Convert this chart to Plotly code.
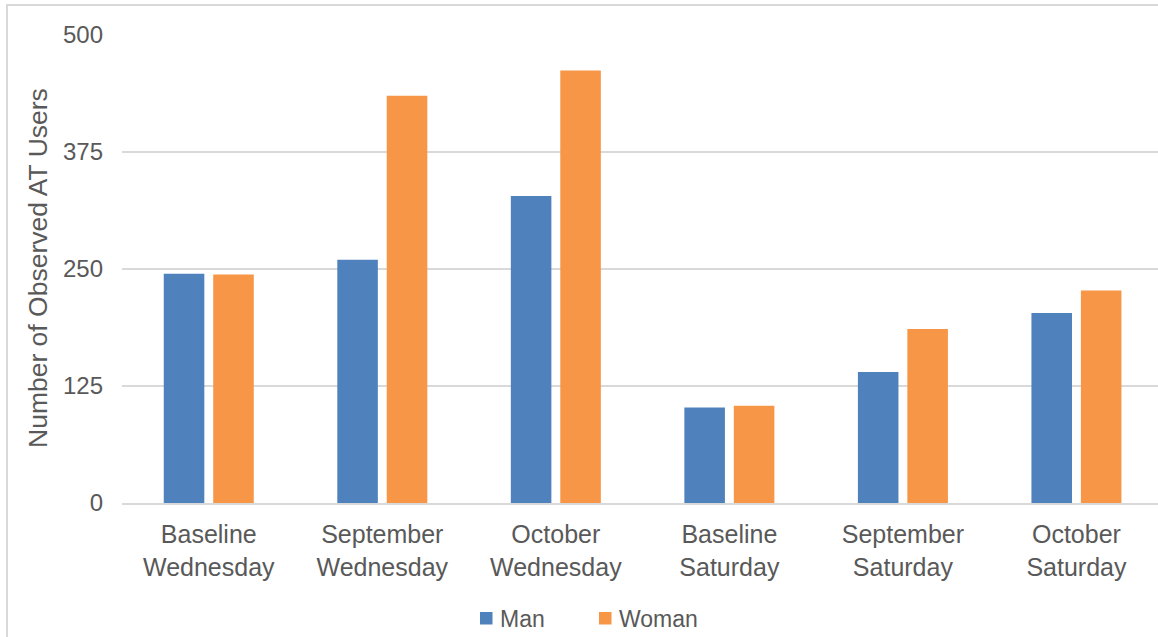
import plotly.graph_objects as go

categories = [
    "Baseline<br>Wednesday",
    "September<br>Wednesday",
    "October<br>Wednesday",
    "Baseline<br>Saturday",
    "September<br>Saturday",
    "October<br>Saturday",
]
man = [245, 260, 328, 102, 140, 203]
woman = [244, 435, 462, 104, 186, 227]
y_ticks = [0, 125, 250, 375, 500]
series_names = ["Man", "Woman"]
series_colors = ["#4F81BD", "#F79646"]

W, H = 1158, 637
L, R, T, B = 122, 0, 35, 134
pw, ph = W - L - R, H - T - B


def px_x(x):
    return (x - L) / pw


def px_y(y):
    return (H - B - y) / ph


font_family = "Arial, Liberation Sans, sans-serif"
text_color = "#595959"
grid_color = "#D9D9D9"

fig = go.Figure()
for name, vals, col in zip(series_names, [man, woman], series_colors):
    fig.add_trace(go.Bar(x=list(range(len(categories))), y=vals, name=name,
                         marker=dict(color=col, line=dict(width=0)),
                         showlegend=False))

# legend: colour square + label for each series, centred under the axis
legend_y = 618
legend_items = [(480, 498), (599, 617)]
shapes = [
    dict(type="rect", xref="paper", yref="paper",
         x0=px_x(7), x1=px_x(1175), y0=px_y(660), y1=px_y(5),
         line=dict(color=grid_color, width=2), fillcolor="rgba(0,0,0,0)",
         layer="below"),
]
annotations = [
    dict(text="Number of Observed AT Users", xref="paper", yref="paper",
         x=px_x(38), y=px_y(268), textangle=-90, showarrow=False,
         xanchor="center", yanchor="middle",
         font=dict(size=26.5, color=text_color)),
]
for (sx, tx), name, col in zip(legend_items, series_names, series_colors):
    shapes.append(dict(type="rect", xref="paper", yref="paper",
                       x0=px_x(sx), x1=px_x(sx + 12.5),
                       y0=px_y(legend_y + 6.5), y1=px_y(legend_y - 6),
                       line=dict(width=0), fillcolor=col))
    annotations.append(dict(text=name, xref="paper", yref="paper",
                            x=px_x(tx), y=px_y(legend_y + 1), showarrow=False,
                            xanchor="left", yanchor="middle",
                            font=dict(size=23, color=text_color)))

fig.update_layout(
    width=W, height=H,
    margin=dict(l=L, r=R, t=T, b=B, pad=0),
    paper_bgcolor="white", plot_bgcolor="white",
    barmode="group", bargap=0.43, bargroupgap=0.18,
    font=dict(family=font_family, size=24, color=text_color),
    showlegend=False,
    xaxis=dict(
        tickmode="array", tickvals=list(range(len(categories))),
        ticktext=categories, range=[-0.5, 5.47],
        showgrid=False, zeroline=False, automargin=False,
        showline=True, linecolor=grid_color, linewidth=2,
        ticks="", tickfont=dict(size=25, color=text_color),
        ticklabelstandoff=8,
    ),
    yaxis=dict(
        range=[0, 500], tickmode="array", tickvals=y_ticks,
        showgrid=True, gridcolor=grid_color, gridwidth=2,
        zeroline=False, showline=False, ticks="", automargin=False,
        tickfont=dict(size=24, color=text_color),
        ticklabelstandoff=18,
    ),
    annotations=annotations,
    shapes=shapes,
)

fig.write_html("out.html")
